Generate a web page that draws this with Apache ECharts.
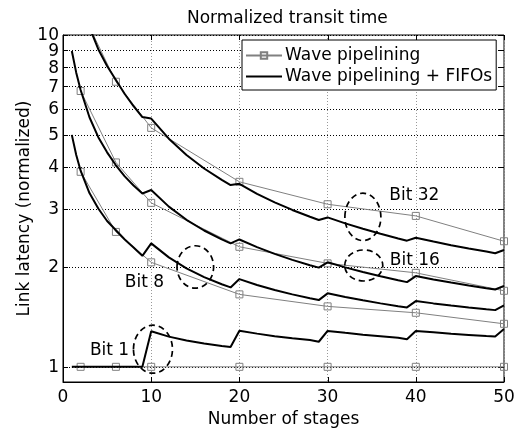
<!DOCTYPE html>
<html>
<head>
<meta charset="utf-8">
<script src="https://cdn.jsdelivr.net/npm/echarts@6/dist/echarts.min.js"></script>
<style>
  html, body { margin: 0; padding: 0; background: #fff; }
  #chart { width: 519px; height: 428px; }
</style>
</head>
<body>
<div id="chart"></div>
<script>
// Axis ticks
const stageTicks = [0, 10, 20, 30, 40, 50];
const latencyTicks = [1, 2, 3, 4, 5, 6, 7, 8, 9, 10];

// Wave pipelining, evaluated at the marked stage counts
const waveStages = [2, 6, 10, 20, 30, 40, 50];
const waveBit1  = [1, 1, 1, 1, 1, 1, 1];
const waveBit8  = [3.87, 2.55, 2.065, 1.653, 1.521, 1.455, 1.348];
const waveBit16 = [6.78, 4.13, 3.12, 2.30, 2.05, 1.92, 1.695];
const waveBit32 = [12.0, 7.23, 5.25, 3.61, 3.09, 2.85, 2.39];

// Wave pipelining + FIFOs (a FIFO stage is added every 10 stages)
const fifoStages = [1, 1.5, 2, 3, 4, 5, 6, 7, 8, 9,
                    10, 12, 14, 16, 18, 19,
                    20, 22, 24, 26, 28, 29,
                    30, 32, 34, 36, 38, 39,
                    40, 42, 44, 46, 48, 49,
                    50];
const fifoBit1  = [1, 1, 1, 1, 1, 1, 1, 1, 1, 1,
                   1.28, 1.233, 1.2, 1.175, 1.155, 1.147,
                   1.284, 1.259, 1.237, 1.219, 1.204, 1.19,
                   1.283, 1.266, 1.25, 1.237, 1.224, 1.21,
                   1.283, 1.271, 1.258, 1.248, 1.238, 1.235,
                   1.30];
const fifoBit8  = [5.0, 4.35, 3.9, 3.34, 3.0, 2.75, 2.58, 2.42, 2.29, 2.16,
                   2.355, 2.137, 1.981, 1.864, 1.773, 1.735,
                   1.838, 1.765, 1.704, 1.653, 1.609, 1.589,
                   1.665, 1.623, 1.586, 1.553, 1.523, 1.51,
                   1.578, 1.553, 1.53, 1.509, 1.49, 1.482,
                   1.531];
const fifoBit16 = [8.95, 7.7, 6.83, 5.65, 4.92, 4.43, 4.05, 3.75, 3.52, 3.33,
                   3.41, 3.039, 2.774, 2.575, 2.42, 2.355,
                   2.42, 2.294, 2.189, 2.10, 2.024, 1.99,
                   2.065, 1.994, 1.93, 1.874, 1.824, 1.80,
                   1.877, 1.834, 1.794, 1.758, 1.725, 1.71,
                   1.754];
const fifoBit32 = [17.5, 15.0, 13.3, 10.55, 9.06, 8.06, 7.32, 6.64, 6.10, 5.66,
                   5.60, 4.87, 4.35, 3.96, 3.66, 3.53,
                   3.56, 3.32, 3.131, 2.97, 2.832, 2.77,
                   2.82, 2.706, 2.606, 2.517, 2.437, 2.40,
                   2.45, 2.385, 2.326, 2.273, 2.225, 2.20,
                   2.25];

// Annotations: bit labels and the dashed rings that tie them to a curve pair
const bitNames    = ['Bit 1', 'Bit 8', 'Bit 32', 'Bit 16'];
const bitLabelPos = [[3.05, 1.123], [7.0, 1.79], [37.0, 3.28], [37.05, 2.09]];
const ringCenters = [[10.2, 1.13], [15.0, 2.0], [34.0, 2.83], [34.1, 2.02]];

const FONT = '"DejaVu Sans", "Liberation Sans", Arial, sans-serif';
const ringRadii = [[19.5, 24], [18.3, 21.2], [18, 23.7], [19, 15.5]];
const TICK_LEN = 5;

const X_MIN = stageTicks[0];
const X_MAX = stageTicks[stageTicks.length - 1];
const Y_MIN = 0.9;
const Y_MAX = latencyTicks[latencyTicks.length - 1];

const pair = (xs, ys) => xs.map((x, i) => [x, ys[i]]);

const WAVE = 'Wave pipelining';
const FIFO = 'Wave pipelining + FIFOs';

function waveSeries(vals) {
  return {
    name: WAVE, type: 'line', data: pair(waveStages, vals),
    symbol: 'rect', symbolSize: 7, showAllSymbol: true,
    lineStyle: { color: '#808080', width: 1 },
    itemStyle: { color: 'rgba(255,255,255,0)', borderColor: '#808080', borderWidth: 1 },
    emphasis: { disabled: true }, animation: false, z: 3
  };
}
function fifoSeries(vals) {
  return {
    name: FIFO, type: 'line', data: pair(fifoStages, vals),
    symbol: 'none', showSymbol: false,
    lineStyle: { color: '#000', width: 2 },
    itemStyle: { color: '#000' },
    emphasis: { disabled: true }, animation: false, z: 4
  };
}

// Log-scale latency grid: dotted rule, inside ticks on both sides, label on the left
const latencyGrid = {
  type: 'custom', name: 'latency-grid',
  data: latencyTicks.map(v => [X_MIN, v]),
  silent: true, animation: false, z: 1, clip: false,
  renderItem: (params, api) => {
    const v = api.value(1);
    const a = api.coord([X_MIN, v]);
    const b = api.coord([X_MAX, v]);
    const y = Math.round(a[1]) + 0.5;
    return {
      type: 'group',
      children: [
        { type: 'line', shape: { x1: a[0], y1: y, x2: b[0], y2: y },
          style: { stroke: '#000', lineWidth: 1, lineDash: [1, 2] } },
        { type: 'line', shape: { x1: a[0], y1: y, x2: a[0] + TICK_LEN, y2: y },
          style: { stroke: '#000', lineWidth: 1 } },
        { type: 'line', shape: { x1: b[0] - TICK_LEN, y1: y, x2: b[0], y2: y },
          style: { stroke: '#000', lineWidth: 1 } },
        { type: 'text', x: a[0] - 4, y: a[1] + 1,
          style: { text: String(v), fill: '#000', fontSize: 17, fontFamily: FONT,
                   align: 'right', verticalAlign: 'middle' } }
      ]
    };
  }
};

// Inside ticks for the stage axis, bottom and top
const stageTickMarks = {
  type: 'custom', name: 'stage-ticks',
  data: stageTicks.map(s => [s, Y_MIN]),
  silent: true, animation: false, z: 5, clip: false,
  renderItem: (params, api) => {
    const s = api.value(0);
    const lo = api.coord([s, Y_MIN]);
    const hi = api.coord([s, Y_MAX]);
    const x = Math.round(lo[0]) + 0.5;
    return {
      type: 'group',
      children: [
        { type: 'line', shape: { x1: x, y1: lo[1], x2: x, y2: lo[1] - TICK_LEN },
          style: { stroke: '#000', lineWidth: 1 } },
        { type: 'line', shape: { x1: x, y1: hi[1], x2: x, y2: hi[1] + TICK_LEN },
          style: { stroke: '#000', lineWidth: 1 } }
      ]
    };
  }
};

const chart = echarts.init(document.getElementById('chart'), null, { renderer: 'canvas' });

chart.setOption({
  animation: false,
  backgroundColor: '#fff',
  title: {
    text: 'Normalized transit time',
    left: 182, top: 5,
    textStyle: { fontSize: 17, fontWeight: 'normal', color: '#000', fontFamily: FONT }
  },
  grid: {
    left: 63, right: 15, top: 35, bottom: 46,
    containLabel: false, outerBoundsMode: 'none',
    show: true, borderColor: '#000', borderWidth: 1, backgroundColor: 'transparent'
  },
  legend: {
    data: [WAVE, { name: FIFO, itemStyle: { opacity: 0 } }],
    orient: 'vertical', left: 242, top: 40,
    itemWidth: 36, itemHeight: 8, itemGap: 4,
    padding: [7, 4, 5, 3],
    backgroundColor: '#fff', borderColor: '#000', borderWidth: 1,
    textStyle: { fontSize: 17, color: '#000', fontFamily: FONT, lineHeight: 17, padding: [0, 0, 0, -2] },
    selectedMode: false, z: 10
  },
  xAxis: {
    type: 'value', min: X_MIN, max: X_MAX, interval: 10,
    axisLine: { show: true, onZero: false, lineStyle: { color: '#000', width: 1 } },
    axisTick: { show: false },
    axisLabel: { fontSize: 17, color: '#000', fontFamily: FONT, margin: 7 },
    splitLine: { show: true, lineStyle: { color: '#999', width: 1, type: [1, 2] } },
    name: 'Number of stages', nameLocation: 'middle', nameGap: 24,
    nameTextStyle: { fontSize: 17, color: '#000', fontFamily: FONT }
  },
  yAxis: {
    type: 'log', logBase: 10, min: Y_MIN, max: Y_MAX,
    axisLine: { show: true, onZero: false, lineStyle: { color: '#000', width: 1 } },
    axisTick: { show: false },
    axisLabel: { show: false },
    splitLine: { show: false },
    minorTick: { show: false },
    minorSplitLine: { show: false },
    name: 'Link latency (normalized)', nameLocation: 'middle', nameGap: 30,
    nameTextStyle: { fontSize: 17, color: '#000', fontFamily: FONT }
  },
  series: [
    latencyGrid, stageTickMarks,
    waveSeries(waveBit1), fifoSeries(fifoBit1),
    waveSeries(waveBit8), fifoSeries(fifoBit8),
    waveSeries(waveBit16), fifoSeries(fifoBit16),
    waveSeries(waveBit32), fifoSeries(fifoBit32),
    {
      type: 'custom', name: 'rings', data: ringCenters,
      silent: true, animation: false, z: 6, clip: false,
      renderItem: (params, api) => {
        const c = api.coord([api.value(0), api.value(1)]);
        const r = ringRadii[params.dataIndex];
        return {
          type: 'ellipse',
          shape: { cx: c[0], cy: c[1], rx: r[0], ry: r[1] },
          style: { fill: 'none', stroke: '#000', lineWidth: 1.7, lineDash: [6, 4] }
        };
      }
    },
    {
      type: 'custom', name: 'bits', data: bitLabelPos,
      silent: true, animation: false, z: 7, clip: false,
      renderItem: (params, api) => {
        const c = api.coord([api.value(0), api.value(1)]);
        return {
          type: 'text', x: c[0], y: c[1],
          style: {
            text: bitNames[params.dataIndex], fill: '#000',
            fontSize: 17, fontFamily: FONT, align: 'left', verticalAlign: 'middle'
          }
        };
      }
    }
  ]
});
</script>
</body>
</html>
